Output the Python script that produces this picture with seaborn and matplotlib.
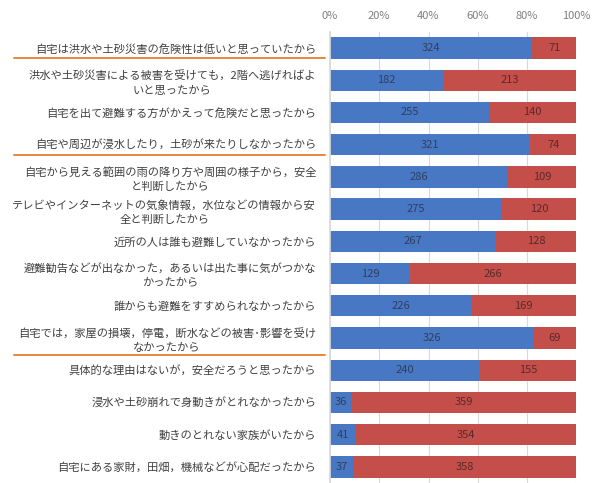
import matplotlib
matplotlib.use("Agg")
import matplotlib.pyplot as plt
import matplotlib.transforms as mtransforms
import seaborn as sns
import pandas as pd
import numpy as np

categories = [
    "自宅は洪水や土砂災害の危険性は低いと思っていたから",
    "洪水や土砂災害による被害を受けても，2階へ逃げればよ\nいと思ったから",
    "自宅を出て避難する方がかえって危険だと思ったから",
    "自宅や周辺が浸水したり，土砂が来たりしなかったから",
    "自宅から見える範囲の雨の降り方や周囲の様子から，安全\nと判断したから",
    "テレビやインターネットの気象情報，水位などの情報から安\n全と判断したから",
    "近所の人は誰も避難していなかったから",
    "避難勧告などが出なかった，あるいは出た事に気がつかな\nかったから",
    "誰からも避難をすすめられなかったから",
    "自宅では，家屋の損壊，停電，断水などの被害･影響を受け\nなかったから",
    "具体的な理由はないが，安全だろうと思ったから",
    "浸水や土砂崩れで身動きがとれなかったから",
    "動きのとれない家族がいたから",
    "自宅にある家財，田畑，機械などが心配だったから",
]
blue_vals = [324, 182, 255, 321, 286, 275, 267, 129, 226, 326, 240, 36, 41, 37]
red_vals = [71, 213, 140, 74, 109, 120, 128, 266, 169, 69, 155, 359, 354, 358]
underlined = [0, 3, 9]
tick_labels = ["0%", "20%", "40%", "60%", "80%", "100%"]

sns.set_theme(style="white")
plt.rcParams['font.family'] = ['Noto Sans CJK JP', 'DejaVu Sans']

blue_c = "#4878C4"
red_c = "#C44E4A"

tot = np.array(blue_vals) + np.array(red_vals)
df = pd.DataFrame({
    "cat": categories,
    "blue": np.array(blue_vals) / tot * 100,
    "total": np.full(len(categories), 100.0),
})

fig = plt.figure(figsize=(5.99, 4.83), dpi=100)
ax = fig.add_axes([0.551, 0.0, 0.411, 0.934])

sns.barplot(data=df, y="cat", x="total", orient="h", color=red_c, width=0.66,
            ax=ax, saturation=1, edgecolor="none")
sns.barplot(data=df, y="cat", x="blue", orient="h", color=blue_c, width=0.66,
            ax=ax, saturation=1, edgecolor="none")

ax.set_xlim(0, 100)
ax.set_xticks([0, 20, 40, 60, 80, 100])
ax.set_xticklabels(tick_labels, color="#7f7f7f", fontsize=8)
ax.xaxis.tick_top()
ax.tick_params(axis="x", length=0, pad=8)
ax.tick_params(axis="y", length=0, pad=10)
ax.set_yticks(range(len(categories)))
ax.set_yticklabels(categories, fontsize=8.1, color="#404040", ha="right",
                   multialignment="center", linespacing=1.45)
ax.set_xlabel("")
ax.set_ylabel("")
ax.grid(axis="x", color="#d9d9d9", linewidth=0.8)
ax.set_axisbelow(True)
for s in ["top", "right", "bottom"]:
    ax.spines[s].set_visible(False)
ax.spines["left"].set_color("#d9d9d9")
ax.set_ylim(len(categories) - 0.5, -0.5)

for i, (b, r) in enumerate(zip(blue_vals, red_vals)):
    bp = b / (b + r) * 100
    ax.text(bp / 2, i, str(b), ha="center", va="center", fontsize=8, color="#2f3f5f")
    ax.text(bp + (100 - bp) / 2, i, str(r), ha="center", va="center", fontsize=8, color="#5a2a2a")

trans = mtransforms.blended_transform_factory(fig.transFigure, ax.transData)
offsets = {0: 0.3, 3: 0.32, 9: 0.52}
for i in underlined:
    y = i + offsets[i]
    ax.plot([0.024, 0.543], [y, y], transform=trans, color="#E8883A",
            linewidth=1.4, clip_on=False)

fig.savefig("out.png", dpi=100)
